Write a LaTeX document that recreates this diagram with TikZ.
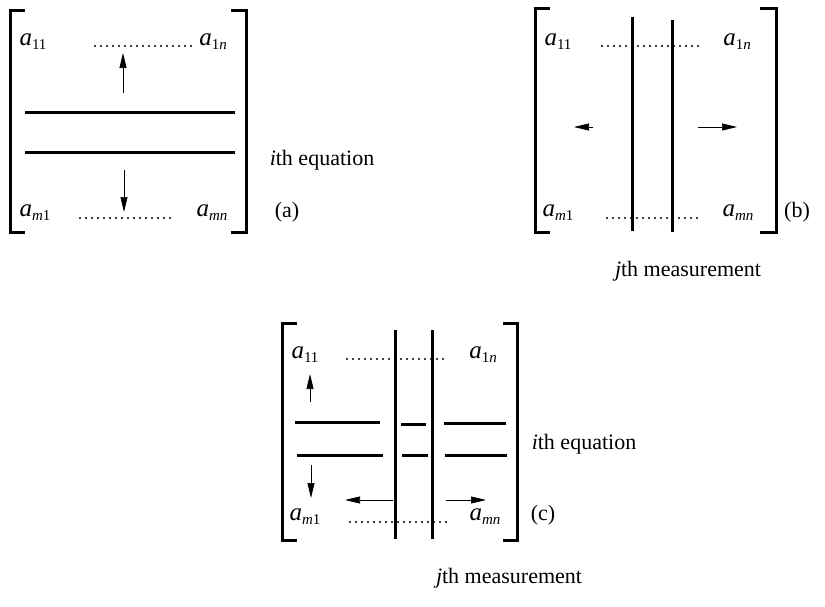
\documentclass[tikz,border=0pt]{standalone}
\usepackage{fontspec}
\setmainfont{Liberation Serif}
\usetikzlibrary{arrows.meta}
\newcommand{\mentry}[1]{{\fontsize{25}{25}\selectfont\textit{a}}\raisebox{-4pt}{\fontsize{15}{15}\selectfont #1}}
\begin{document}
\begin{tikzpicture}[x=1pt,y=-1pt,
  brk/.style={line width=3pt, line join=miter},
  bar/.style={line width=3pt},
  dots/.style={line width=2.1pt, dash pattern=on 0pt off 6pt, line cap=round},
  arr/.style={line width=0.7pt, -{Triangle[length=15pt,width=7pt]}},
  lab/.style={font=\fontsize{22}{22}\selectfont, inner sep=0pt},
  ent/.style={inner sep=0pt}]
\useasboundingbox (0,0) rectangle (825,606);

% ---------- panel (a) ----------
\draw[brk] (25,10) -- (10,10) -- (10,232) -- (25,232);
\draw[brk] (231,10) -- (246,10) -- (246,232) -- (231,232);
\node[ent] (a11) at (33,42) {\mentry{11}};
\node[ent] (a1n) at (213,42) {\mentry{1\textit{n}}};
\node[ent] (am1) at (35,213) {\mentry{\textit{m}1}};
\node[ent] (amn) at (212,213) {\mentry{\textit{mn}}};
\draw[dots] (95,46) -- (191,46);
\draw[dots] (80,218) -- (171,218);
\coordinate (upA0) at (123,93); \coordinate (upA1) at (123,53);
\draw[arr] (upA0) -- (upA1);
\draw[bar] (25,112) -- (235,112);
\draw[bar] (25,152) -- (235,152);
\coordinate (dnA0) at (124,170); \coordinate (dnA1) at (124,212);
\draw[arr] (dnA0) -- (dnA1);
\node[lab] (eqa) at (322,160) {\textit{i}th equation};
\node[lab] (la) at (287,212) {(a)};

% ---------- panel (b) ----------
\draw[brk] (550,8) -- (535,8) -- (535,232) -- (550,232);
\draw[brk] (760,8) -- (776,8) -- (776,232) -- (760,232);
\draw[bar] (632,17) -- (632,231);
\draw[bar] (672,20) -- (672,232);
\node[ent] (b11) at (558,42) {\mentry{11}};
\node[ent] (b1n) at (737,42) {\mentry{1\textit{n}}};
\node[ent] (bm1) at (558,213) {\mentry{\textit{m}1}};
\node[ent] (bmn) at (738,213) {\mentry{\textit{mn}}};
\draw[dots] (602,46) -- (699,46);
\draw[dots] (607,218) -- (701,218);
\coordinate (lB0) at (593,127); \coordinate (lB1) at (574,127);
\draw[arr] (lB0) -- (lB1);
\coordinate (rB0) at (698,127); \coordinate (rB1) at (737,127);
\draw[arr] (rB0) -- (rB1);
\node[lab] (lb) at (797,212) {(b)};
\node[lab] (jb) at (688,271) {\textit{j}th measurement};

% ---------- panel (c) ----------
\draw[brk] (297,323) -- (282,323) -- (282,540) -- (297,540);
\draw[brk] (503,323) -- (517,323) -- (517,540) -- (503,540);
\draw[bar] (395,330) -- (395,539);
\draw[bar] (432,330) -- (432,539);
\node[ent] (c11) at (305,355) {\mentry{11}};
\node[ent] (c1n) at (483,355) {\mentry{1\textit{n}}};
\node[ent] (cm1) at (305,517) {\mentry{\textit{m}1}};
\node[ent] (cmn) at (485,517) {\mentry{\textit{mn}}};
\draw[dots] (347,359) -- (443,359);
\draw[dots] (350,522) -- (446,522);
\coordinate (upC0) at (310,402); \coordinate (upC1) at (310,374);
\draw[arr] (upC0) -- (upC1);
\draw[bar] (295,422) -- (380,422);
\draw[bar] (401,424) -- (426,424);
\draw[bar] (444,423) -- (506,423);
\draw[bar] (297,455) -- (383,455);
\draw[bar] (402,455) -- (428,455);
\draw[bar] (445,455) -- (507,455);
\coordinate (dnC0) at (311,465); \coordinate (dnC1) at (311,498);
\draw[arr] (dnC0) -- (dnC1);
\coordinate (lC0) at (393,500); \coordinate (lC1) at (345,500);
\draw[arr] (lC0) -- (lC1);
\coordinate (rC0) at (446,500); \coordinate (rC1) at (486,500);
\draw[arr] (rC0) -- (rC1);
\node[lab] (eqc) at (584,444) {\textit{i}th equation};
\node[lab] (lc) at (543,515) {(c)};
\node[lab] (jc) at (509,578) {\textit{j}th measurement};
\end{tikzpicture}
\end{document}
